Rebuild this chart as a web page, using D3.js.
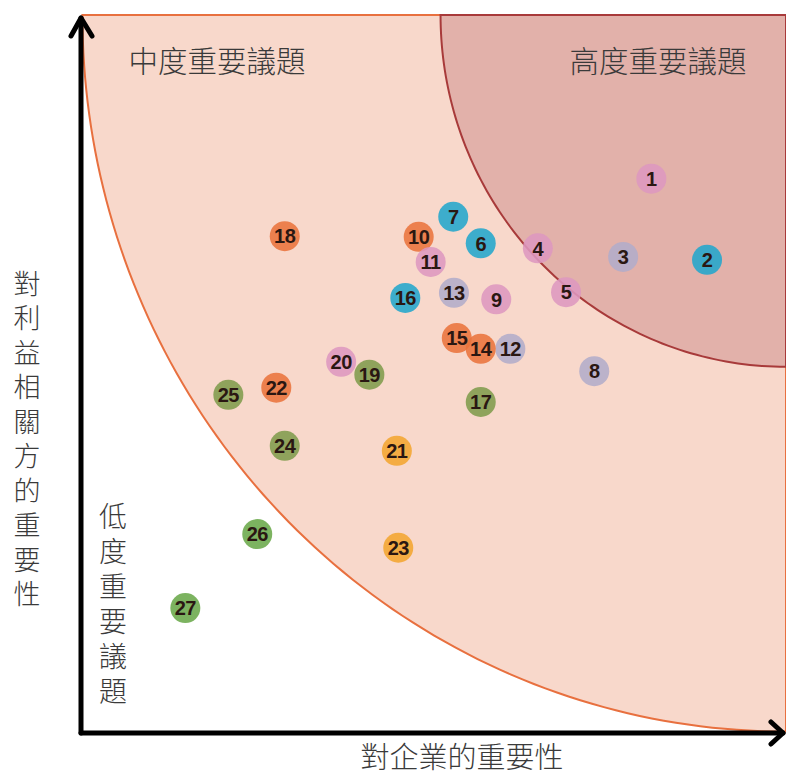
<!DOCTYPE html>
<html>
<head>
<meta charset="utf-8">
<script src="https://cdn.jsdelivr.net/npm/d3@7"></script>
<style>
  body { margin: 0; background: #fff; }
  svg { display: block; }
</style>
</head>
<body>
<script>
const issues = ['1','2','3','4','5','6','7','8','9','10','11','12','13','14','15','16','17','18','19','20','21','22','23','24','25','26','27']
const bizScore = [80.9, 88.8, 76.9, 64.8, 68.8, 56.7, 52.8, 72.8, 58.9, 47.9, 49.6, 60.9, 52.9, 56.7, 53.3, 46.0, 56.7, 28.9, 40.9, 36.9, 44.8, 27.7, 45.0, 28.9, 20.9, 25.0, 14.8]
const stakeScore = [77.2, 65.9, 66.3, 67.5, 61.4, 68.2, 71.9, 50.4, 60.4, 69.1, 65.6, 53.5, 61.3, 53.5, 55.0, 60.6, 46.1, 69.2, 49.9, 51.7, 39.3, 48.1, 25.8, 40.0, 47.1, 27.7, 17.4]
const groups = ['pink','blue','lavender','pink','pink','blue','blue','lavender','pink','orange','pink','lavender','lavender','orange','orange','blue','olive','orange','olive','pink','yellow','orange','yellow','olive','olive','green','green']
const zoneNames = ['高度重要議題', '中度重要議題', '低度重要議題']
const zoneRadius = [49, 99.8]

const colors = {
  pink: '#dd97bf',
  blue: '#22a6cc',
  lavender: '#b2acc9',
  orange: '#e9733c',
  olive: '#7f9b4c',
  green: '#6aa84a',
  yellow: '#f3a530'
}

const width = 786, height = 775
const svg = d3.select('body').append('svg')
  .attr('width', width)
  .attr('height', height)

const x = d3.scaleLinear().domain([0, 100]).range([81, 786])
const y = d3.scaleLinear().domain([0, 100]).range([733, 15])

// zones: quarter rings around the top-right corner, radius in score units
function zone(r) {
  let pts = [[100, 100]]
  for (let i = 0; i <= 90; i++) {
    let t = i / 90 * Math.PI / 2
    pts.push([100 - r * Math.cos(t), 100 - r * Math.sin(t)])
  }
  pts.push([100, 100])
  return d3.line().x(d => x(d[0])).y(d => y(d[1]))(pts)
}

svg.append('path')
  .attr('d', zone(zoneRadius[1]))
  .attr('fill', '#f8d8cb')
  .attr('stroke', '#e8703f')
  .attr('stroke-width', 2)

svg.append('path')
  .attr('d', zone(zoneRadius[0]))
  .attr('fill', '#e2b1aa')
  .attr('stroke', '#a83a3a')
  .attr('stroke-width', 2)

const labelFont = '"Noto Sans CJK TC", "Noto Sans CJK SC", sans-serif'

svg.append('text')
  .attr('x', 658).attr('y', 72)
  .attr('text-anchor', 'middle')
  .style('font-family', labelFont)
  .style('font-weight', 300)
  .style('font-size', '29.5px')
  .attr('fill', '#3a3a3a')
  .text(zoneNames[0])

svg.append('text')
  .attr('x', 217).attr('y', 72)
  .attr('text-anchor', 'middle')
  .style('font-family', labelFont)
  .style('font-weight', 300)
  .style('font-size', '29.5px')
  .attr('fill', '#3a3a3a')
  .text(zoneNames[1])

// vertical labels, written top to bottom
function vertical(str, cx, top, size, gap) {
  svg.append('text')
    .attr('x', cx)
    .attr('y', top)
    .style('writing-mode', 'vertical-rl')
    .style('font-family', labelFont)
    .style('font-weight', 300)
    .style('font-size', size + 'px')
    .style('letter-spacing', gap + 'px')
    .attr('fill', '#3a3a3a')
    .text(str)
}
vertical(zoneNames[2], 113, 502, 28, 7)
vertical('對利益相關方的重要性', 27, 270, 27, 7.5)

svg.append('text')
  .attr('x', 462).attr('y', 768)
  .attr('text-anchor', 'middle')
  .style('font-family', labelFont)
  .style('font-weight', 300)
  .style('font-size', '29px')
  .attr('fill', '#3a3a3a')
  .text('對企業的重要性')

// axes with open arrowheads
const axis = svg.append('g')
  .attr('fill', 'none')
  .attr('stroke', '#000')
  .attr('stroke-width', 5)
  .attr('stroke-linecap', 'round')
  .attr('stroke-linejoin', 'round')

axis.append('path').attr('d', d3.line()([[x(0), y(0)], [x(0), 18]]))
axis.append('path').attr('d', d3.line()([[x(0), y(0)], [783, y(0)]]))
axis.append('path').attr('d', d3.line()([[71, 36], [x(0), 18], [92, 36]]))
axis.append('path').attr('d', d3.line()([[771, 722], [783, y(0)], [771, 744]]))

// issue bubbles
const pts = issues.map((id, i) => ({ id, bx: bizScore[i], sy: stakeScore[i], g: groups[i] }))

const nodes = svg.append('g').selectAll('g')
  .data(pts)
  .enter()
  .append('g')
  .attr('transform', d => 'translate(' + x(d.bx) + ',' + y(d.sy) + ')')

nodes.append('circle')
  .attr('r', 15)
  .attr('fill', d => colors[d.g])
  .attr('fill-opacity', 0.88)

nodes.append('text')
  .attr('text-anchor', 'middle')
  .attr('dy', '0.36em')
  .style('font-family', '"Liberation Sans Narrow", "Liberation Sans", sans-serif')
  .style('font-weight', 'bold')
  .style('font-size', '20px')
  .style('letter-spacing', '-0.5px')
  .attr('fill', '#2a1712')
  .text(d => d.id)
</script>
</body>
</html>
